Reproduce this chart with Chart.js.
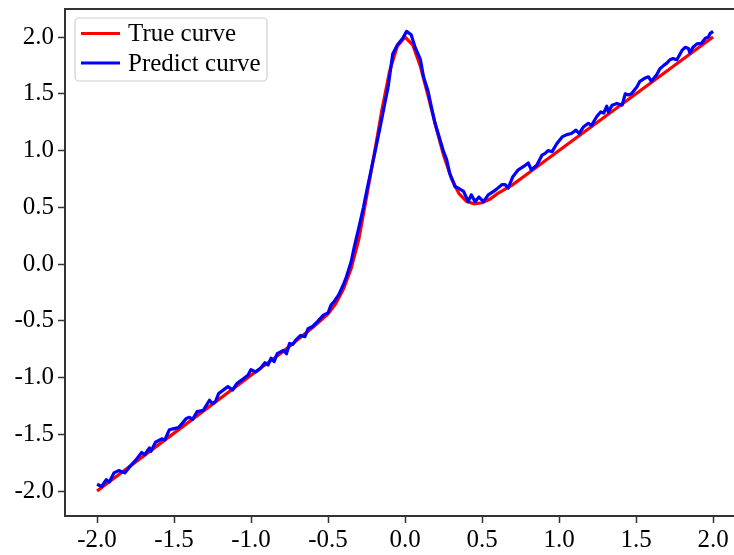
<!DOCTYPE html>
<html>
<head>
<meta charset="utf-8">
<script src="https://cdn.jsdelivr.net/npm/chart.js@4"></script>
<style>
    html, body { margin: 0; padding: 0; background: #fff; overflow: hidden; }
    #chart { display: block; }
</style>
</head>
<body>
<canvas id="chart" width="734" height="555"></canvas>
<script>
// Values
const trueX = [-2.0, -1.5, -1.0, -0.8, -0.7, -0.6, -0.55, -0.5, -0.45, -0.4, -0.35, -0.3, -0.25, -0.2, -0.15, -0.1, -0.05, 0.0,
    0.05, 0.1, 0.15, 0.2, 0.25, 0.3, 0.35, 0.4, 0.45, 0.5, 0.55, 0.6, 0.7, 0.8, 1.0, 1.5, 2.0];
const trueY = [-2.0, -1.49, -0.98, -0.78, -0.67, -0.56, -0.50, -0.44, -0.35, -0.22, -0.04, 0.22, 0.59, 0.97, 1.36, 1.70, 1.92, 2.00,
    1.93, 1.74, 1.48, 1.21, 0.96, 0.76, 0.62, 0.55, 0.53, 0.54, 0.57, 0.62, 0.70, 0.80, 1.00, 1.50, 2.00];

const predictX = [-2.00, -1.97, -1.94, -1.92, -1.89, -1.86, -1.82, -1.79, -1.75, -1.71, -1.69, -1.66, -1.65, -1.62, -1.58, -1.56,
    -1.53, -1.50, -1.47, -1.42, -1.40, -1.38, -1.35, -1.31, -1.27, -1.25, -1.23, -1.21, -1.17, -1.15, -1.12, -1.09,
    -1.05, -1.02, -1.00, -0.97, -0.94, -0.91, -0.89, -0.87, -0.85, -0.83, -0.79, -0.77, -0.75, -0.73, -0.71, -0.68,
    -0.65, -0.63, -0.60, -0.57, -0.53, -0.50, -0.48, -0.46, -0.43, -0.40, -0.38, -0.35, -0.33, -0.30, -0.27, -0.245,
    -0.22, -0.19, -0.16, -0.135, -0.11, -0.08, -0.05, -0.015, 0.01, 0.04, 0.065, 0.10, 0.12, 0.15, 0.17, 0.195,
    0.215, 0.25, 0.27, 0.29, 0.325, 0.345, 0.38, 0.41, 0.43, 0.455, 0.48, 0.51, 0.54, 0.575, 0.595, 0.63,
    0.65, 0.67, 0.70, 0.735, 0.77, 0.80, 0.82, 0.855, 0.89, 0.91, 0.93, 0.955, 0.985, 1.02, 1.05, 1.08,
    1.11, 1.13, 1.16, 1.19, 1.21, 1.245, 1.27, 1.29, 1.31, 1.32, 1.345, 1.375, 1.41, 1.43, 1.45, 1.47,
    1.505, 1.525, 1.56, 1.58, 1.60, 1.635, 1.655, 1.68, 1.70, 1.72, 1.74, 1.765, 1.80, 1.82, 1.84, 1.85,
    1.87, 1.895, 1.925, 1.95, 1.97, 1.98, 2.00];
const predictY = [-1.94, -1.96, -1.90, -1.92, -1.84, -1.82, -1.84, -1.79, -1.73, -1.66, -1.68, -1.62, -1.65, -1.57, -1.54, -1.55,
    -1.46, -1.45, -1.44, -1.36, -1.35, -1.37, -1.30, -1.29, -1.20, -1.23, -1.21, -1.14, -1.10, -1.08, -1.11, -1.05,
    -1.01, -0.98, -0.93, -0.95, -0.92, -0.87, -0.89, -0.83, -0.86, -0.79, -0.76, -0.79, -0.70, -0.71, -0.67, -0.63,
    -0.64, -0.57, -0.55, -0.51, -0.45, -0.43, -0.36, -0.33, -0.27, -0.18, -0.11, 0.02, 0.15, 0.32, 0.50, 0.67,
    0.83, 1.02, 1.22, 1.39, 1.56, 1.85, 1.93, 1.99, 2.05, 2.02, 1.91, 1.80, 1.65, 1.52, 1.39, 1.24,
    1.15, 0.99, 0.92, 0.80, 0.68, 0.67, 0.64, 0.55, 0.61, 0.55, 0.59, 0.55, 0.61, 0.64, 0.66, 0.70,
    0.70, 0.67, 0.77, 0.83, 0.86, 0.89, 0.83, 0.87, 0.96, 0.975, 1.00, 0.99, 1.06, 1.12, 1.14, 1.15,
    1.18, 1.15, 1.21, 1.24, 1.22, 1.30, 1.34, 1.33, 1.39, 1.34, 1.40, 1.415, 1.40, 1.50, 1.49, 1.50,
    1.56, 1.61, 1.64, 1.65, 1.61, 1.67, 1.72, 1.75, 1.77, 1.80, 1.81, 1.80, 1.885, 1.91, 1.90, 1.86,
    1.91, 1.94, 1.945, 1.99, 2.00, 2.03, 2.05];

const xTicks = [-2.0, -1.5, -1.0, -0.5, 0.0, 0.5, 1.0, 1.5, 2.0];
const yTicks = [-2.0, -1.5, -1.0, -0.5, 0.0, 0.5, 1.0, 1.5, 2.0];

const seriesNames = ['True curve', 'Predict curve'];
const seriesColors = ['#ff0000', '#0000ff'];

const FONT = "'Liberation Serif', 'Times New Roman', serif";
const AXIS_COLOR = '#333333';

// Top frame line (matplotlib spine) – right spine is cut off in the reference
const framePlugin = {
    id: 'frame',
    afterDraw(chart) {
        const { ctx, chartArea } = chart;
        ctx.save();
        ctx.strokeStyle = AXIS_COLOR;
        ctx.lineWidth = 2;
        ctx.beginPath();
        ctx.moveTo(chartArea.left - 1, chartArea.top);
        ctx.lineTo(chartArea.right, chartArea.top);
        ctx.stroke();
        ctx.restore();
    }
};

// Legend box in the upper left corner, matplotlib style
const legendBoxPlugin = {
    id: 'legendBox',
    afterDraw(chart) {
        const { ctx, chartArea } = chart;
        const x = chartArea.left + 10, y = chartArea.top + 9, w = 192, h = 63, r = 4;
        ctx.save();
        ctx.fillStyle = 'rgba(255,255,255,0.8)';
        ctx.strokeStyle = '#d0d0d0';
        ctx.lineWidth = 1.2;
        ctx.beginPath();
        ctx.roundRect(x, y, w, h, r);
        ctx.fill();
        ctx.stroke();

        ctx.font = `25px ${FONT}`;
        ctx.textBaseline = 'middle';
        ctx.fillStyle = '#000';
        seriesNames.forEach((name, i) => {
            const ly = y + 15.5 + i * 29.5;
            ctx.strokeStyle = seriesColors[i];
            ctx.lineWidth = 3;
            ctx.beginPath();
            ctx.moveTo(x + 6, ly);
            ctx.lineTo(x + 45, ly);
            ctx.stroke();
            ctx.fillText(name, x + 53, ly + 1);
        });
        ctx.restore();
    }
};

const toPoints = (xs, ys) => xs.map((v, i) => ({ x: v, y: ys[i] }));

new Chart(document.getElementById('chart'), {
    type: 'line',
    data: {
        datasets: [
            {
                label: seriesNames[0],
                data: toPoints(trueX, trueY),
                borderColor: seriesColors[0],
                borderWidth: 3.2,
                pointRadius: 0,
                tension: 0,
                order: 2
            },
            {
                label: seriesNames[1],
                data: toPoints(predictX, predictY),
                borderColor: seriesColors[1],
                borderWidth: 3.2,
                pointRadius: 0,
                tension: 0,
                borderJoinStyle: 'round',
                order: 1
            }
        ]
    },
    options: {
        responsive: false,
        animation: false,
        layout: { padding: { top: 9, right: 0, left: 0, bottom: 0 } },
        plugins: {
            legend: { display: false },
            tooltip: { enabled: false }
        },
        scales: {
            x: {
                type: 'linear',
                min: -2.208,
                max: 2.136,
                afterBuildTicks: s => { s.ticks = xTicks.map(v => ({ value: v })); },
                afterFit: s => { s.height = 39; s.paddingLeft = 0; s.paddingRight = 0; },
                grid: { drawOnChartArea: false, drawTicks: true, tickLength: 7, tickWidth: 1.5, tickColor: AXIS_COLOR },
                border: { display: true, color: AXIS_COLOR, width: 2 },
                ticks: {
                    color: '#000',
                    padding: 2,
                    maxRotation: 0,
                    font: { family: FONT, size: 25 },
                    callback: v => v.toFixed(1)
                }
            },
            y: {
                type: 'linear',
                min: -2.22,
                max: 2.247,
                afterBuildTicks: s => { s.ticks = yTicks.map(v => ({ value: v })); },
                afterFit: s => { s.width = 65; s.paddingTop = 0; s.paddingBottom = 0; },
                grid: { drawOnChartArea: false, drawTicks: true, tickLength: 7, tickWidth: 1.5, tickColor: AXIS_COLOR },
                border: { display: true, color: AXIS_COLOR, width: 2 },
                ticks: {
                    color: '#000',
                    padding: 4,
                    font: { family: FONT, size: 25 },
                    callback: v => v.toFixed(1)
                }
            }
        }
    },
    plugins: [framePlugin, legendBoxPlugin]
});
</script>
</body>
</html>
